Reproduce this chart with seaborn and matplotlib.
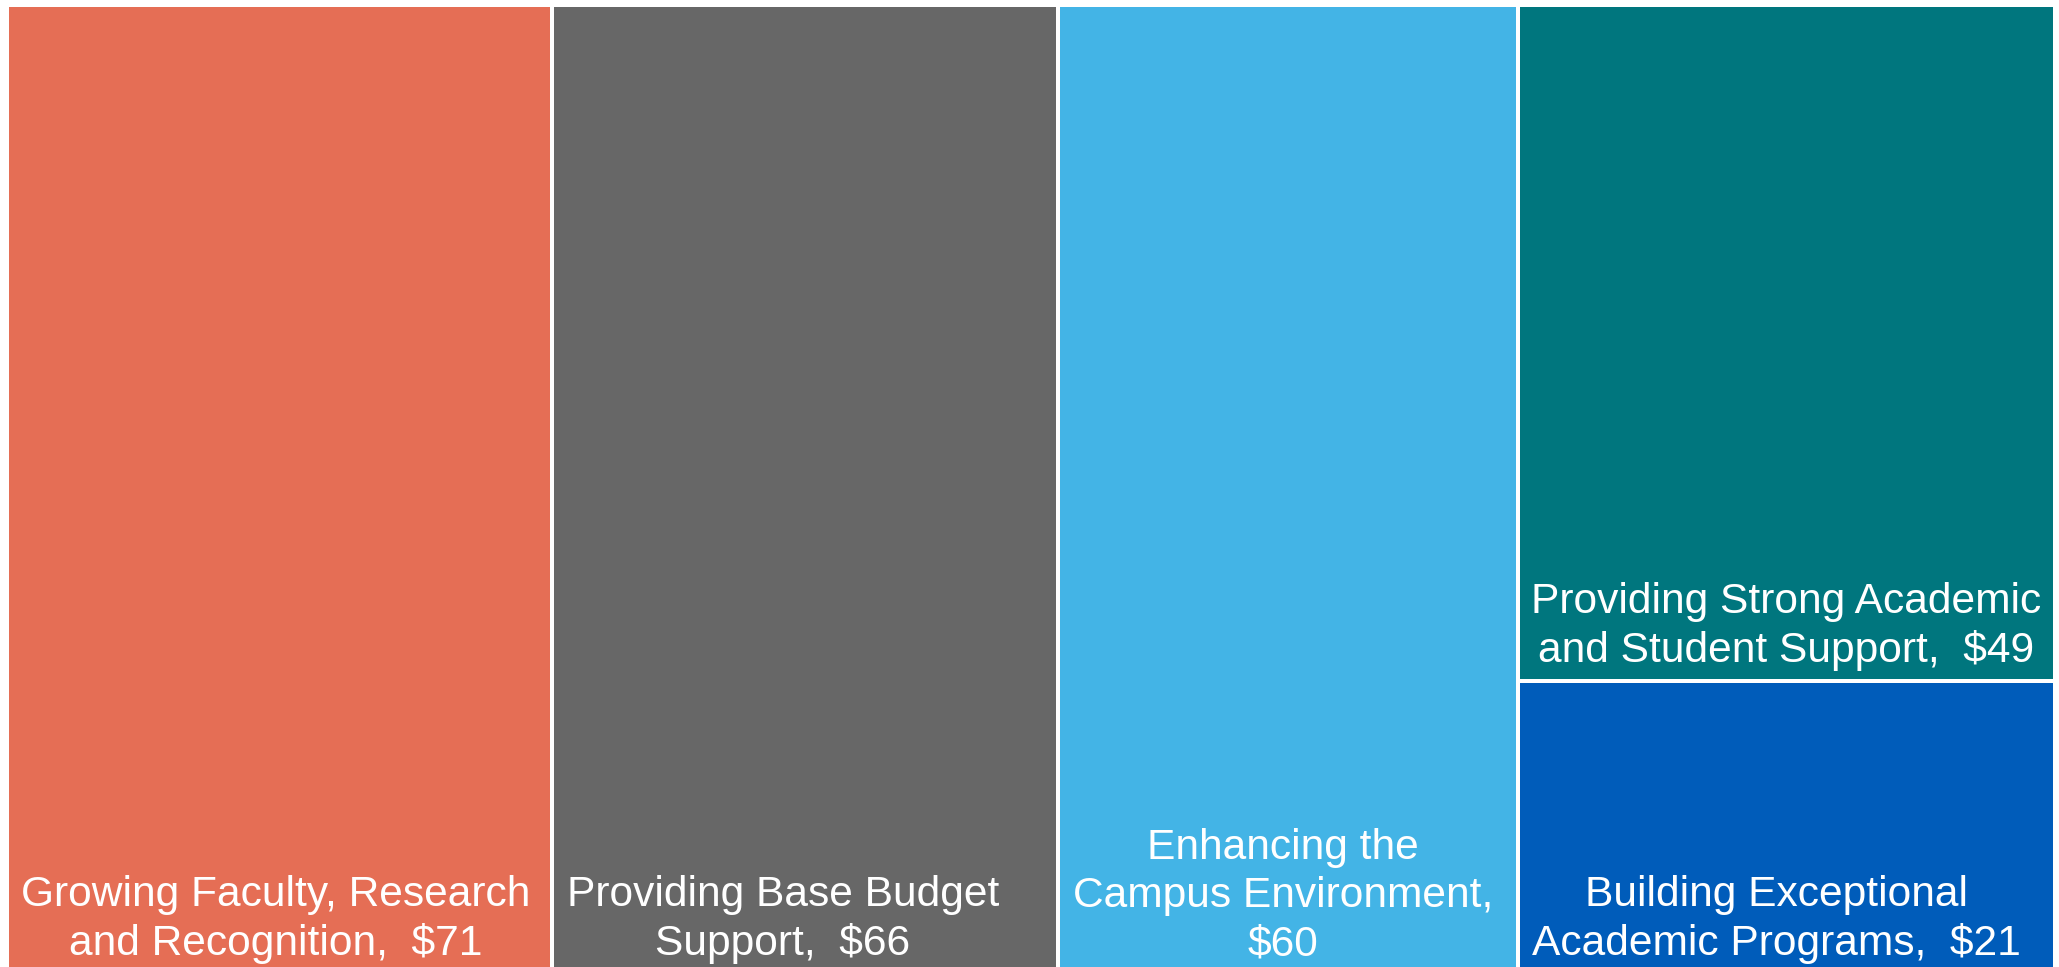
import matplotlib
matplotlib.use("Agg")
import matplotlib.pyplot as plt
import seaborn as sns

# ---- data ----
labels = [
    "Growing Faculty, Research\nand Recognition,  $71",
    "Providing Base Budget\nSupport,  $66",
    "Enhancing the\nCampus Environment,\n$60",
    "Providing Strong Academic\nand Student Support,  $49",
    "Building Exceptional\nAcademic Programs,  $21",
]
values = [71, 66, 60, 49, 21]
columns = [0, 1, 2, 3, 3]
colors = ["#E56E55", "#676767", "#43B4E6", "#00767E", "#005CBA"]

# ---- style ----
sns.set_style("white")
plt.rcParams["font.family"] = ["Liberation Sans", "DejaVu Sans"]
label_nudge_px = [(-4, 7), (-22, 7), (-5, 7), (0, 10), (-10, 7)]

W, H = 2059, 967
fig = plt.figure(figsize=(W / 100, H / 100), dpi=100)
ax = fig.add_axes([7 / W, 1 - 971 / H, (2055 - 7) / W, (971 - 4.5) / H])

# treemap layout: columns side by side, items stacked top-down within a column
ncol = max(columns) + 1
col_tot = [sum(v for v, c in zip(values, columns) if c == k) for k in range(ncol)]
col_left = [sum(col_tot[:k]) for k in range(ncol)]
used = [0.0] * ncol
rects = []
for v, c in zip(values, columns):
    h = v / col_tot[c]
    top = 1 - used[c]
    used[c] += h
    rects.append((col_left[c], col_tot[c], top - h, h))

lefts = [r[0] for r in rects]
widths = [r[1] for r in rects]
bottoms = [r[2] for r in rects]
heights = [r[3] for r in rects]

ax.bar(lefts, heights, width=widths, bottom=bottoms, align="edge",
       color=colors, edgecolor="white", linewidth=4 * 72 / 100)

for lab, x0, w, b, nd in zip(labels, lefts, widths, bottoms, label_nudge_px):
    ax.annotate(lab, xy=(x0 + w / 2, b), xytext=nd, textcoords="offset pixels",
                ha="center", va="bottom", multialignment="center",
                fontsize=30.6, color="white", linespacing=1.25)

ax.set_xlim(0, sum(col_tot))
ax.set_ylim(0, 1)
ax.axis("off")

fig.savefig("out.png", dpi=100, facecolor="white")
